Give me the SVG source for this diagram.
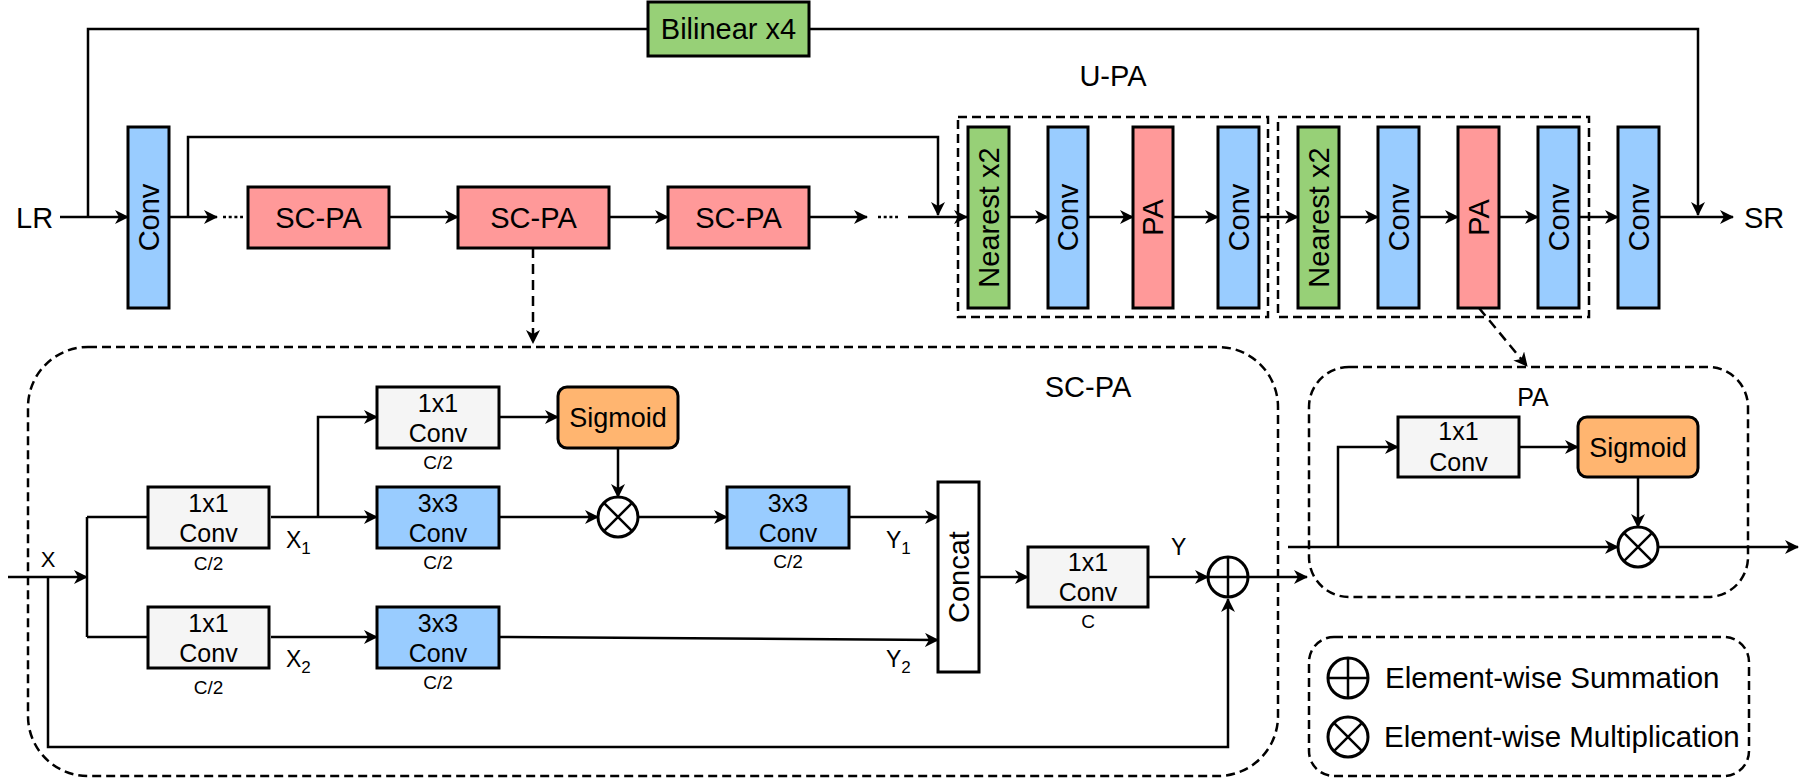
<svg xmlns="http://www.w3.org/2000/svg" width="1809" height="779" viewBox="0 0 1809 779">
<defs>
<marker id="arr" viewBox="0 0 14 14" markerWidth="14" markerHeight="14" refX="13" refY="7" orient="auto" markerUnits="userSpaceOnUse">
<path d="M0,0 L14,7 L0,14 L4,7 z" fill="#000"/>
</marker>
<style>
text{font-family:"Liberation Sans",Arial,Helvetica,sans-serif;fill:#000}
.box{stroke:#000;stroke-width:3}
.blue{fill:#99CCFF}
.red{fill:#FF9999}
.green{fill:#97D077}
.gray{fill:#F5F5F5}
.orange{fill:#FFB570}
.white{fill:#FFFFFF}
.big{font-size:29px}
.mid{font-size:25px}
.sm{font-size:19px}
.c{text-anchor:middle}
.ln{fill:none;stroke:#000;stroke-width:2.5}
.ar{marker-end:url(#arr)}
.dash{fill:none;stroke:#000;stroke-width:2.5;stroke-dasharray:9 5}
.dot{fill:none;stroke:#000;stroke-width:2.5;stroke-dasharray:3 2.7}
.op{fill:#fff;stroke:#000;stroke-width:3}
</style>
</defs>

<g id="connectors">
<path class="ln ar" d="M60,217 H128"/>
<path class="ln" d="M88,217 V29 H648"/>
<path class="ln ar" d="M809,29 H1698 V215"/>
<path class="ln ar" d="M169,217 H217"/>
<path class="dot" d="M223,217 H243"/>
<path class="ln ar" d="M188,217 V137 H938 V215"/>
<path class="ln ar" d="M389,217 H458"/>
<path class="ln ar" d="M609,217 H668"/>
<path class="ln ar" d="M809,217 H867"/>
<path class="dot" d="M878,217 H898"/>
<path class="ln ar" d="M908,217 H967"/>
<path class="ln ar" d="M1009,217 H1048"/>
<path class="ln ar" d="M1088,217 H1133"/>
<path class="ln ar" d="M1173,217 H1218"/>
<path class="ln ar" d="M1259,217 H1298"/>
<path class="ln ar" d="M1339,217 H1378"/>
<path class="ln ar" d="M1419,217 H1458"/>
<path class="ln ar" d="M1499,217 H1538"/>
<path class="ln ar" d="M1579,217 H1618"/>
<path class="ln ar" d="M1659,217 H1733"/>
<path class="ln ar" d="M533,248 V343" stroke-dasharray="10 6"/>
<path class="ln ar" d="M1479,308 L1527,366" stroke-dasharray="10 6"/>

<path class="ln ar" d="M8,577 H87"/>
<path class="ln" d="M87,517 V637 M87,517 H148 M87,637 H148"/>
<path class="ln ar" d="M48,577 V747 H1228 V599"/>
<path class="ln ar" d="M271,517 H377"/>
<path class="ln ar" d="M318,517 V417 H377"/>
<path class="ln ar" d="M499,417 H558"/>
<path class="ln ar" d="M618,448 V497"/>
<path class="ln ar" d="M499,517 H598"/>
<path class="ln ar" d="M638,517 H727"/>
<path class="ln ar" d="M849,517 H938"/>
<path class="ln ar" d="M271,637 H377"/>
<path class="ln ar" d="M499,637 L938,640"/>
<path class="ln ar" d="M979,577 H1028"/>
<path class="ln ar" d="M1148,577 H1208"/>
<path class="ln ar" d="M1248,577 H1307"/>

<path class="ln ar" d="M1288,547 H1618"/>
<path class="ln ar" d="M1338,547 V447 H1398"/>
<path class="ln ar" d="M1519,447 H1578"/>
<path class="ln ar" d="M1638,477 V527"/>
<path class="ln ar" d="M1659,547 H1798"/>
</g>

<g id="labels">
<text class="big" x="16" y="228">LR</text>
<text class="big" x="1744" y="228">SR</text>
<text class="big c" x="1113" y="86">U-PA</text>
<text x="48" y="567" class="c" font-size="22">X</text>
<text x="286" y="548" font-size="23">X<tspan font-size="17" dy="6">1</tspan></text>
<text x="286" y="667" font-size="23">X<tspan font-size="17" dy="6">2</tspan></text>
<text x="886" y="548" font-size="23">Y<tspan font-size="17" dy="6">1</tspan></text>
<text x="886" y="667" font-size="23">Y<tspan font-size="17" dy="6">2</tspan></text>
<text x="1171" y="555" font-size="23">Y</text>
</g>

<g id="group-upa1"><rect class="dash" x="958" y="117" width="310" height="200"/></g>
<g id="group-upa2"><rect class="dash" x="1278" y="117" width="311" height="200"/></g>
<g id="group-scpa"><rect class="dash" x="28" y="347" width="1250" height="429" rx="60" ry="60"/>
<text class="c" font-size="29" x="1088" y="397">SC-PA</text></g>
<g id="group-pa"><rect class="dash" x="1309" y="367" width="439" height="230" rx="40" ry="40"/>
<text class="mid c" x="1533" y="406">PA</text></g>

<g id="bilinear"><rect class="box green" x="648" y="2" width="161" height="54"/><text class="big c" x="728.5" y="39">Bilinear x4</text></g>
<g id="conv0"><rect class="box blue" x="128" y="127" width="41" height="181"/><text class="big c" x="148.5" y="227.5" transform="rotate(-90 148.5 217.5)">Conv</text></g>
<g id="scpa1"><rect class="box red" x="248" y="187" width="141" height="61"/><text class="big c" x="318.5" y="228">SC-PA</text></g>
<g id="scpa2"><rect class="box red" x="458" y="187" width="151" height="61"/><text class="big c" x="533.5" y="228">SC-PA</text></g>
<g id="scpa3"><rect class="box red" x="668" y="187" width="141" height="61"/><text class="big c" x="738.5" y="228">SC-PA</text></g>
<g id="nearest1"><rect class="box green" x="968" y="127" width="41" height="181"/><text class="big c" x="988.5" y="227.5" transform="rotate(-90 988.5 217.5)">Nearest x2</text></g>
<g id="conv1"><rect class="box blue" x="1048" y="127" width="40" height="181"/><text class="big c" x="1068" y="227.5" transform="rotate(-90 1068 217.5)">Conv</text></g>
<g id="pa1"><rect class="box red" x="1133" y="127" width="40" height="181"/><text class="big c" x="1153" y="227.5" transform="rotate(-90 1153 217.5)">PA</text></g>
<g id="conv2"><rect class="box blue" x="1218" y="127" width="41" height="181"/><text class="big c" x="1238.5" y="227.5" transform="rotate(-90 1238.5 217.5)">Conv</text></g>
<g id="nearest2"><rect class="box green" x="1298" y="127" width="41" height="181"/><text class="big c" x="1318.5" y="227.5" transform="rotate(-90 1318.5 217.5)">Nearest x2</text></g>
<g id="conv3"><rect class="box blue" x="1378" y="127" width="41" height="181"/><text class="big c" x="1398.5" y="227.5" transform="rotate(-90 1398.5 217.5)">Conv</text></g>
<g id="pa2"><rect class="box red" x="1458" y="127" width="41" height="181"/><text class="big c" x="1478.5" y="227.5" transform="rotate(-90 1478.5 217.5)">PA</text></g>
<g id="conv4"><rect class="box blue" x="1538" y="127" width="41" height="181"/><text class="big c" x="1558.5" y="227.5" transform="rotate(-90 1558.5 217.5)">Conv</text></g>
<g id="conv5"><rect class="box blue" x="1618" y="127" width="41" height="181"/><text class="big c" x="1638.5" y="227.5" transform="rotate(-90 1638.5 217.5)">Conv</text></g>

<g id="conv1x1-a"><rect class="box gray" x="148" y="487" width="121" height="61"/><text class="mid c" x="208.5" y="512">1x1</text><text class="mid c" x="208.5" y="542">Conv</text><text class="sm c" x="208.5" y="570">C/2</text></g>
<g id="conv1x1-b"><rect class="box gray" x="377" y="387" width="122" height="61"/><text class="mid c" x="438" y="412">1x1</text><text class="mid c" x="438" y="442">Conv</text><text class="sm c" x="438" y="469">C/2</text></g>
<g id="sigmoid1"><rect class="box orange" x="558" y="387" width="120" height="61" rx="9" ry="9"/><text class="c" font-size="27" x="618" y="427">Sigmoid</text></g>
<g id="conv3x3-a"><rect class="box blue" x="377" y="487" width="122" height="61"/><text class="mid c" x="438" y="512">3x3</text><text class="mid c" x="438" y="542">Conv</text><text class="sm c" x="438" y="569">C/2</text></g>
<g id="mul1"><circle class="op" cx="618" cy="517" r="20"/><path class="ln" stroke-width="3" d="M603.9,502.9 L632.1,531.1 M632.1,502.9 L603.9,531.1"/></g>
<g id="conv3x3-b"><rect class="box blue" x="727" y="487" width="122" height="61"/><text class="mid c" x="788" y="512">3x3</text><text class="mid c" x="788" y="542">Conv</text><text class="sm c" x="788" y="568">C/2</text></g>
<g id="conv1x1-d"><rect class="box gray" x="148" y="607" width="121" height="61"/><text class="mid c" x="208.5" y="632">1x1</text><text class="mid c" x="208.5" y="662">Conv</text><text class="sm c" x="208.5" y="694">C/2</text></g>
<g id="conv3x3-e"><rect class="box blue" x="377" y="607" width="122" height="61"/><text class="mid c" x="438" y="632">3x3</text><text class="mid c" x="438" y="662">Conv</text><text class="sm c" x="438" y="689">C/2</text></g>
<g id="concat"><rect class="box white" x="938" y="482" width="41" height="190"/><text class="big c" x="958.5" y="587" transform="rotate(-90 958.5 577)">Concat</text></g>
<g id="conv1x1-c"><rect class="box gray" x="1028" y="547" width="120" height="60"/><text class="mid c" x="1088" y="571">1x1</text><text class="mid c" x="1088" y="601">Conv</text><text class="sm c" x="1088" y="628">C</text></g>
<g id="sum1"><circle class="op" cx="1228" cy="577" r="20"/><path class="ln" stroke-width="3" d="M1208,577 H1248 M1228,557 V597"/></g>

<g id="pa-conv"><rect class="box gray" x="1398" y="417" width="121" height="60"/><text class="mid c" x="1458.5" y="440">1x1</text><text class="mid c" x="1458.5" y="471">Conv</text></g>
<g id="pa-sigmoid"><rect class="box orange" x="1578" y="417" width="120" height="60" rx="9" ry="9"/><text class="c" font-size="27" x="1638" y="457">Sigmoid</text></g>
<g id="pa-mul"><circle class="op" cx="1638" cy="547" r="20"/><path class="ln" stroke-width="3" d="M1623.9,532.9 L1652.1,561.1 M1652.1,532.9 L1623.9,561.1"/></g>

<g id="legend"><rect class="dash" x="1309" y="637" width="440" height="139" rx="25" ry="25"/>
<circle class="op" cx="1348" cy="678" r="20"/><path class="ln" stroke-width="3" d="M1328,678 H1368 M1348,658 V698"/>
<text x="1385" y="688" font-size="29.5">Element-wise Summation</text>
<circle class="op" cx="1348" cy="737" r="20"/><path class="ln" stroke-width="3" d="M1333.9,722.9 L1362.1,751.1 M1362.1,722.9 L1333.9,751.1"/>
<text x="1384" y="747" font-size="29.5">Element-wise Multiplication</text></g>
</svg>
